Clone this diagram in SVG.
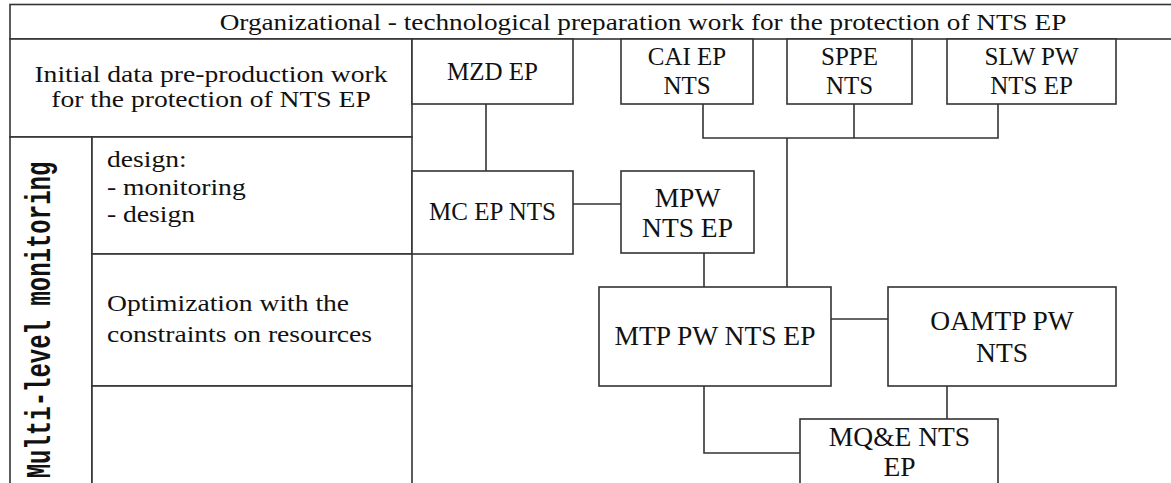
<svg xmlns="http://www.w3.org/2000/svg" width="1171" height="483" viewBox="0 0 1171 483">
<style>
.box{fill:#fff;stroke:#333;stroke-width:1.6}
.ln{fill:none;stroke:#333;stroke-width:1.6}
.t{font-family:"Liberation Serif","Times New Roman",serif;fill:#111}
.s23{font-size:23px}
.s25{font-size:25px}
.s27{font-size:27.5px}
.m{text-anchor:middle}
.mono{font-family:"Liberation Mono","Courier New",monospace;font-size:24px;font-weight:bold;fill:#111;text-anchor:middle}
</style>
<rect width="1171" height="483" fill="#fff"/>
<g id="header">
<rect class="box" x="10" y="4.5" width="1170" height="34.5"/>
<text class="t s23 m" transform="translate(643,30) scale(1.185,1)">Organizational - technological preparation work for the protection of NTS EP</text>
</g>
<g id="initial-data">
<rect class="box" x="10" y="39" width="402" height="98"/>
<text class="t s23 m" transform="translate(211,82) scale(1.2,1)">Initial data pre-production work</text>
<text class="t s23 m" transform="translate(211,107) scale(1.2,1)">for the protection of NTS EP</text>
</g>
<g id="multi-level">
<rect class="box" x="10" y="137" width="82" height="360"/>
<text class="mono" transform="translate(50,320) scale(1.5,1) rotate(-90)">Multi-level monitoring</text>
</g>
<g id="design">
<rect class="box" x="92" y="137" width="320" height="117"/>
<text class="t s23" transform="translate(107,167) scale(1.2,1)">design:</text>
<text class="t s23" transform="translate(107,194.5) scale(1.2,1)">- monitoring</text>
<text class="t s23" transform="translate(107,222) scale(1.2,1)">- design</text>
</g>
<g id="optimization">
<rect class="box" x="92" y="254" width="320" height="132"/>
<text class="t s23" transform="translate(107,311) scale(1.2,1)">Optimization with the</text>
<text class="t s23" transform="translate(107,342) scale(1.2,1)">constraints on resources</text>
</g>
<g id="empty-cell">
<rect class="box" x="92" y="386" width="320" height="110"/>
</g>
<g id="connectors">
<path class="ln" d="M486,104V171"/>
<path class="ln" d="M573,204H621"/>
<path class="ln" d="M703,104V138H998V104"/>
<path class="ln" d="M854,104V138"/>
<path class="ln" d="M787,138V287"/>
<path class="ln" d="M704,253V287"/>
<path class="ln" d="M831,319H888"/>
<path class="ln" d="M704,386V453H800"/>
<path class="ln" d="M947,386V419"/>
</g>
<g id="mzd">
<rect class="box" x="412" y="39" width="161" height="65"/>
<text class="t s25 m" x="492.5" y="80">MZD EP</text>
</g>
<g id="cai">
<rect class="box" x="621" y="39" width="132" height="65"/>
<text class="t s25 m" x="687" y="65">CAI EP</text>
<text class="t s25 m" x="687" y="94">NTS</text>
</g>
<g id="sppe">
<rect class="box" x="787" y="39" width="125" height="65"/>
<text class="t s25 m" x="849.5" y="65">SPPE</text>
<text class="t s25 m" x="849.5" y="94">NTS</text>
</g>
<g id="slw">
<rect class="box" x="947" y="39" width="169" height="65"/>
<text class="t s25 m" x="1031.5" y="65">SLW PW</text>
<text class="t s25 m" x="1031.5" y="94">NTS EP</text>
</g>
<g id="mc">
<rect class="box" x="412" y="171" width="161" height="83"/>
<text class="t s25 m" x="492.5" y="220">MC EP NTS</text>
</g>
<g id="mpw">
<rect class="box" x="621" y="171" width="133" height="82"/>
<text class="t s27 m" x="687.5" y="206.5">MPW</text>
<text class="t s27 m" x="687.5" y="237">NTS EP</text>
</g>
<g id="mtp">
<rect class="box" x="599" y="287" width="232" height="99"/>
<text class="t s27 m" x="715" y="345">MTP PW NTS EP</text>
</g>
<g id="oamtp">
<rect class="box" x="888" y="287" width="228" height="99"/>
<text class="t s27 m" x="1002" y="330">OAMTP PW</text>
<text class="t s27 m" x="1002" y="362">NTS</text>
</g>
<g id="mqe">
<rect class="box" x="800" y="419" width="198" height="80"/>
<text class="t s27 m" x="899.5" y="446">MQ&amp;E NTS</text>
<text class="t s27 m" x="899.5" y="476">EP</text>
</g>
</svg>
